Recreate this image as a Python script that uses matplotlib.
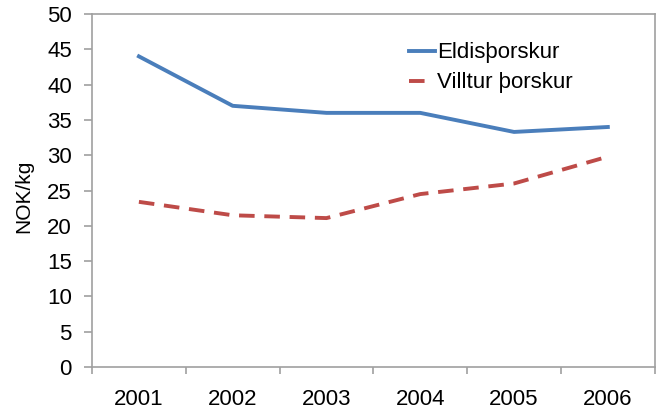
import matplotlib.pyplot as plt
from matplotlib.lines import Line2D

plt.rcParams['font.family'] = ['Liberation Sans', 'DejaVu Sans']

years = ['2001', '2002', '2003', '2004', '2005', '2006']
eldis = [44, 37, 36, 36, 33.3, 34]
villtur = [23.4, 21.5, 21.1, 24.5, 26, 29.8]

blue = '#4A7EBB'
red = '#BE4B48'

fig = plt.figure(figsize=(6.62, 4.12), dpi=100)
ax = fig.add_axes([0.139, 0.109, 0.850, 0.857])

x = range(len(years))
ax.plot(x, eldis, color=blue, lw=2.8)
ax.plot(x, villtur, color=red, lw=2.8, dashes=(4.0, 2.5))

ax.set_xlim(-0.5, len(years) - 0.5)
ax.set_ylim(0, 50)
ax.set_yticks(range(0, 51, 5))
ax.set_xticks(list(x))
ax.set_xticklabels(years)
ax.set_xticks([i - 0.5 for i in range(len(years) + 1)], minor=True)
ax.tick_params(axis='x', which='major', length=0, labelsize=16, pad=15.5)
ax.tick_params(axis='x', which='minor', length=5, color='#A0A0A0', width=1.2)
ax.tick_params(axis='y', length=6, color='#A0A0A0', width=1.2, labelsize=16, pad=8.5)

for s in ax.spines.values():
    s.set_color('#A0A0A0')
    s.set_linewidth(1.2)

ax.set_ylabel('NOK/kg', fontsize=15)
ax.yaxis.set_label_coords(-0.105, 0.484)

# legend samples: the dashed one shows only its first dash
handles = [Line2D([], [], color=blue, lw=2.8),
           Line2D([], [], color=red, lw=2.8, dashes=(4.0, 10))]
ax.legend(handles, ['Eldisþorskur', 'Villtur þorskur'],
          loc='upper left', bbox_to_anchor=(0.527, 0.976), frameon=False,
          fontsize=16, handlelength=1.2, handletextpad=0.1, labelspacing=0.4)

fig.savefig('out.png', dpi=100)
